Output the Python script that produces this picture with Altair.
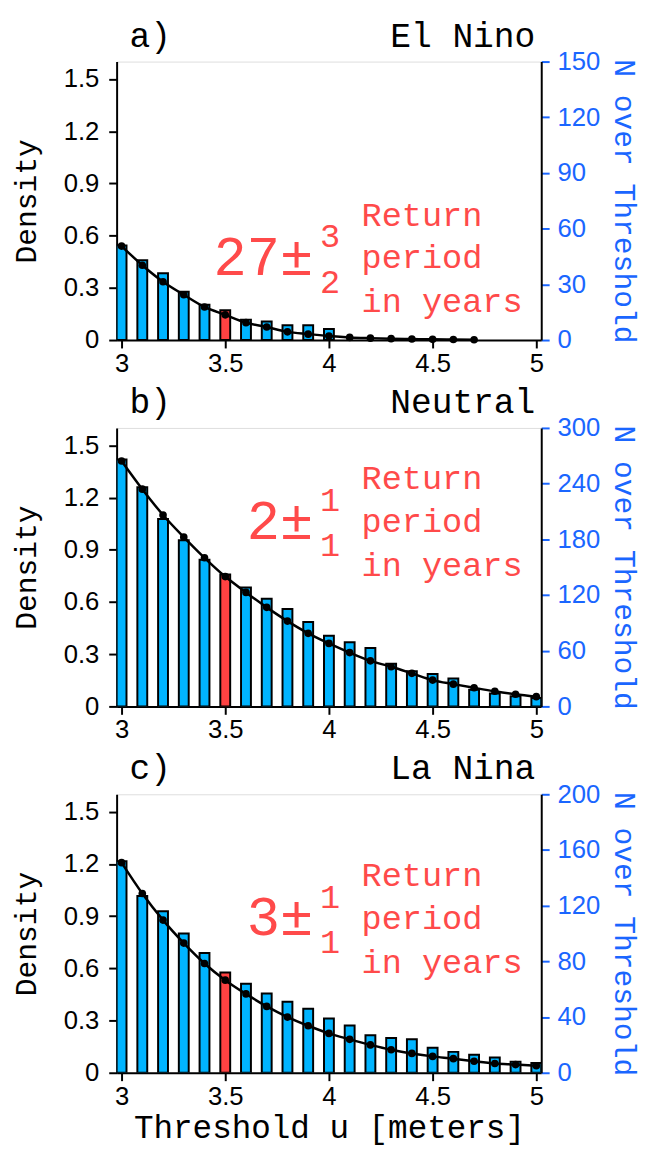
import altair as alt
import pandas as pd

# ---------------- data ----------------
u_all = [3.0, 3.1, 3.2, 3.3, 3.4, 3.5, 3.6, 3.7, 3.8, 3.9, 4.0,
         4.1, 4.2, 4.3, 4.4, 4.5, 4.6, 4.7, 4.8, 4.9, 5.0]

# a) El Nino
a_bar_u = [3.0, 3.1, 3.2, 3.3, 3.4, 3.5, 3.6, 3.7, 3.8, 3.9, 4.0]
a_counts = [51, 43, 36, 26, 19, 16, 11, 10, 8, 8, 6]
a_den_u = [3.0, 3.1, 3.2, 3.3, 3.4, 3.5, 3.6, 3.7, 3.8, 3.9, 4.0,
           4.1, 4.2, 4.3, 4.4, 4.5, 4.6, 4.7]
a_density = [0.54, 0.43, 0.335, 0.26, 0.19, 0.145, 0.10, 0.075, 0.047, 0.034, 0.023,
             0.015, 0.011, 0.008, 0.006, 0.004, 0.003, 0.002]

# b) Neutral
b_counts = [266, 236, 202, 179, 158, 142, 128, 116, 105, 91, 76,
            69, 63, 46, 38, 35, 30, 18, 14, 11, 9]
b_density = [1.41, 1.248, 1.10, 0.973, 0.854, 0.746, 0.655, 0.569, 0.49, 0.42, 0.362,
             0.309, 0.262, 0.228, 0.19, 0.151, 0.128, 0.107, 0.087, 0.07, 0.056]

# c) La Nina
c_counts = [152, 127, 116, 100, 86, 72, 64, 57, 51, 46, 39,
            34, 27, 25, 24, 18, 15, 13, 11, 8, 7]
c_density = [1.207, 1.03, 0.877, 0.745, 0.628, 0.532, 0.453, 0.381, 0.32, 0.27, 0.226,
             0.192, 0.16, 0.132, 0.111, 0.094, 0.081, 0.066, 0.053, 0.047, 0.04]

panel_letters = ["a)", "b)", "c)"]
panel_names = ["El Nino", "Neutral", "La Nina"]
right_max = [150, 300, 200]
right_ticks = [[0, 30, 60, 90, 120, 150],
               [0, 60, 120, 180, 240, 300],
               [0, 40, 80, 120, 160, 200]]
left_ticks = [0, 0.3, 0.6, 0.9, 1.2, 1.5]
x_ticks = [3, 3.5, 4, 4.5, 5]
return_main = ["27\u00b1", "2\u00b1", "3\u00b1"]
return_up = ["3", "1", "1"]
return_down = ["2", "1", "1"]
return_words = ["Return", "period", "in years"]

# ---------------- style ----------------
W, H = 430, 282
CYAN = "#00b4ff"
RED = "#ff4242"
BLUE = "#1a66ff"
TXTRED = "#ff4a4a"
MONO = "Liberation Mono"
SANS = "Liberation Sans"
ann_base = [216, 112, 143]   # baseline of big number inside each panel (px from top)

xscale = alt.Scale(domain=[3, 5], nice=False, zero=False)


def panel(i, bar_u, counts, den_u, dens, last):
    dfb = pd.DataFrame({"u": bar_u, "n": counts})
    dfd = pd.DataFrame({"u": den_u, "d": dens})
    xaxis = alt.Axis(values=x_ticks, format="~g", labelFont=SANS, labelFontSize=26,
                     labelColor="black", labelFlush=False, labelOverlap=False,
                     tickSize=8, tickWidth=2, tickColor="black", domainWidth=2,
                     domainColor="black", labelPadding=3, grid=False,
                     title="Threshold u [meters]" if last else None,
                     titleFont=MONO, titleFontSize=33, titleFontWeight="normal",
                     titleColor="black", titlePadding=3)
    bars = alt.Chart(dfb).mark_bar(size=10, stroke="black", strokeWidth=2, clip=True).encode(
        x=alt.X("u:Q", scale=xscale, axis=xaxis),
        y=alt.Y("n:Q", scale=alt.Scale(domain=[0, right_max[i]], nice=False),
                axis=alt.Axis(orient="right", values=right_ticks[i], title="N over Threshold",
                              labelFont=SANS, labelFontSize=26, labelColor=BLUE,
                              tickColor=BLUE, tickSize=8, tickWidth=2,
                              domainColor="black", domainWidth=2, grid=False,
                              labelPadding=8, titleFont=MONO, titleFontSize=30,
                              titleFontWeight="normal", titleColor=BLUE, titlePadding=9)),
        color=alt.condition(alt.datum.u == 3.5, alt.value(RED), alt.value(CYAN)),
    )
    yl = alt.Y("d:Q", scale=alt.Scale(domain=[0, 1.6], nice=False),
               axis=alt.Axis(orient="left", values=left_ticks, format="~g", title="Density",
                             labelFont=SANS, labelFontSize=26, labelColor="black",
                             tickColor="black", tickSize=8, tickWidth=2,
                             domainColor="black", domainWidth=2, grid=False,
                             labelPadding=10, titleFont=MONO, titleFontSize=30,
                             titleFontWeight="normal", titleColor="black", titlePadding=22))
    line = alt.Chart(dfd).mark_line(
        color="black", strokeWidth=2.5, interpolate="monotone",
        point=alt.OverlayMarkDef(filled=True, size=60, color="black", opacity=1)
    ).encode(x=alt.X("u:Q", scale=xscale), y=yl)

    one = pd.DataFrame({"k": [0]})
    b = ann_base[i]
    texts = [
        alt.Chart(one).mark_text(text=panel_letters[i], font=MONO, fontSize=35, align="left",
                                 baseline="alphabetic", color="black").encode(
            x=alt.value(13), y=alt.value(-15)),
        alt.Chart(one).mark_text(text=panel_names[i], font=MONO, fontSize=35, align="right",
                                 baseline="alphabetic", color="black").encode(
            x=alt.value(424), y=alt.value(-15)),
        alt.Chart(one).mark_text(text=return_main[i], font=MONO, fontSize=56, align="right",
                                 baseline="alphabetic", color=TXTRED).encode(
            x=alt.value(199), y=alt.value(b)),
        alt.Chart(one).mark_text(text=return_up[i], font=MONO, fontSize=34, align="left",
                                 baseline="alphabetic", color=TXTRED).encode(
            x=alt.value(206), y=alt.value(b - 28)),
        alt.Chart(one).mark_text(text=return_down[i], font=MONO, fontSize=34, align="left",
                                 baseline="alphabetic", color=TXTRED).encode(
            x=alt.value(206), y=alt.value(b + 18)),
    ]
    for word, dy in zip(return_words, [-50, -7, 38]):
        texts.append(
            alt.Chart(one).mark_text(text=word, font=MONO, fontSize=34, align="left",
                                     baseline="alphabetic", color=TXTRED).encode(
                x=alt.value(248), y=alt.value(b + dy)))

    return alt.layer(bars, line, *texts).resolve_scale(y="independent").properties(
        width=W, height=H)


pa = panel(0, a_bar_u, a_counts, a_den_u, a_density, False)
pb = panel(1, u_all, b_counts, u_all, b_density, False)
pc = panel(2, u_all, c_counts, u_all, c_density, True)

chart = alt.vconcat(pa, pb, pc, spacing=7).properties(
    padding={"left": 3, "top": 3, "right": 0, "bottom": 0}
).configure_view(stroke="black", strokeWidth=2).configure(background="white")

chart.save("out.html", embed_options={"renderer": "svg", "actions": False})
